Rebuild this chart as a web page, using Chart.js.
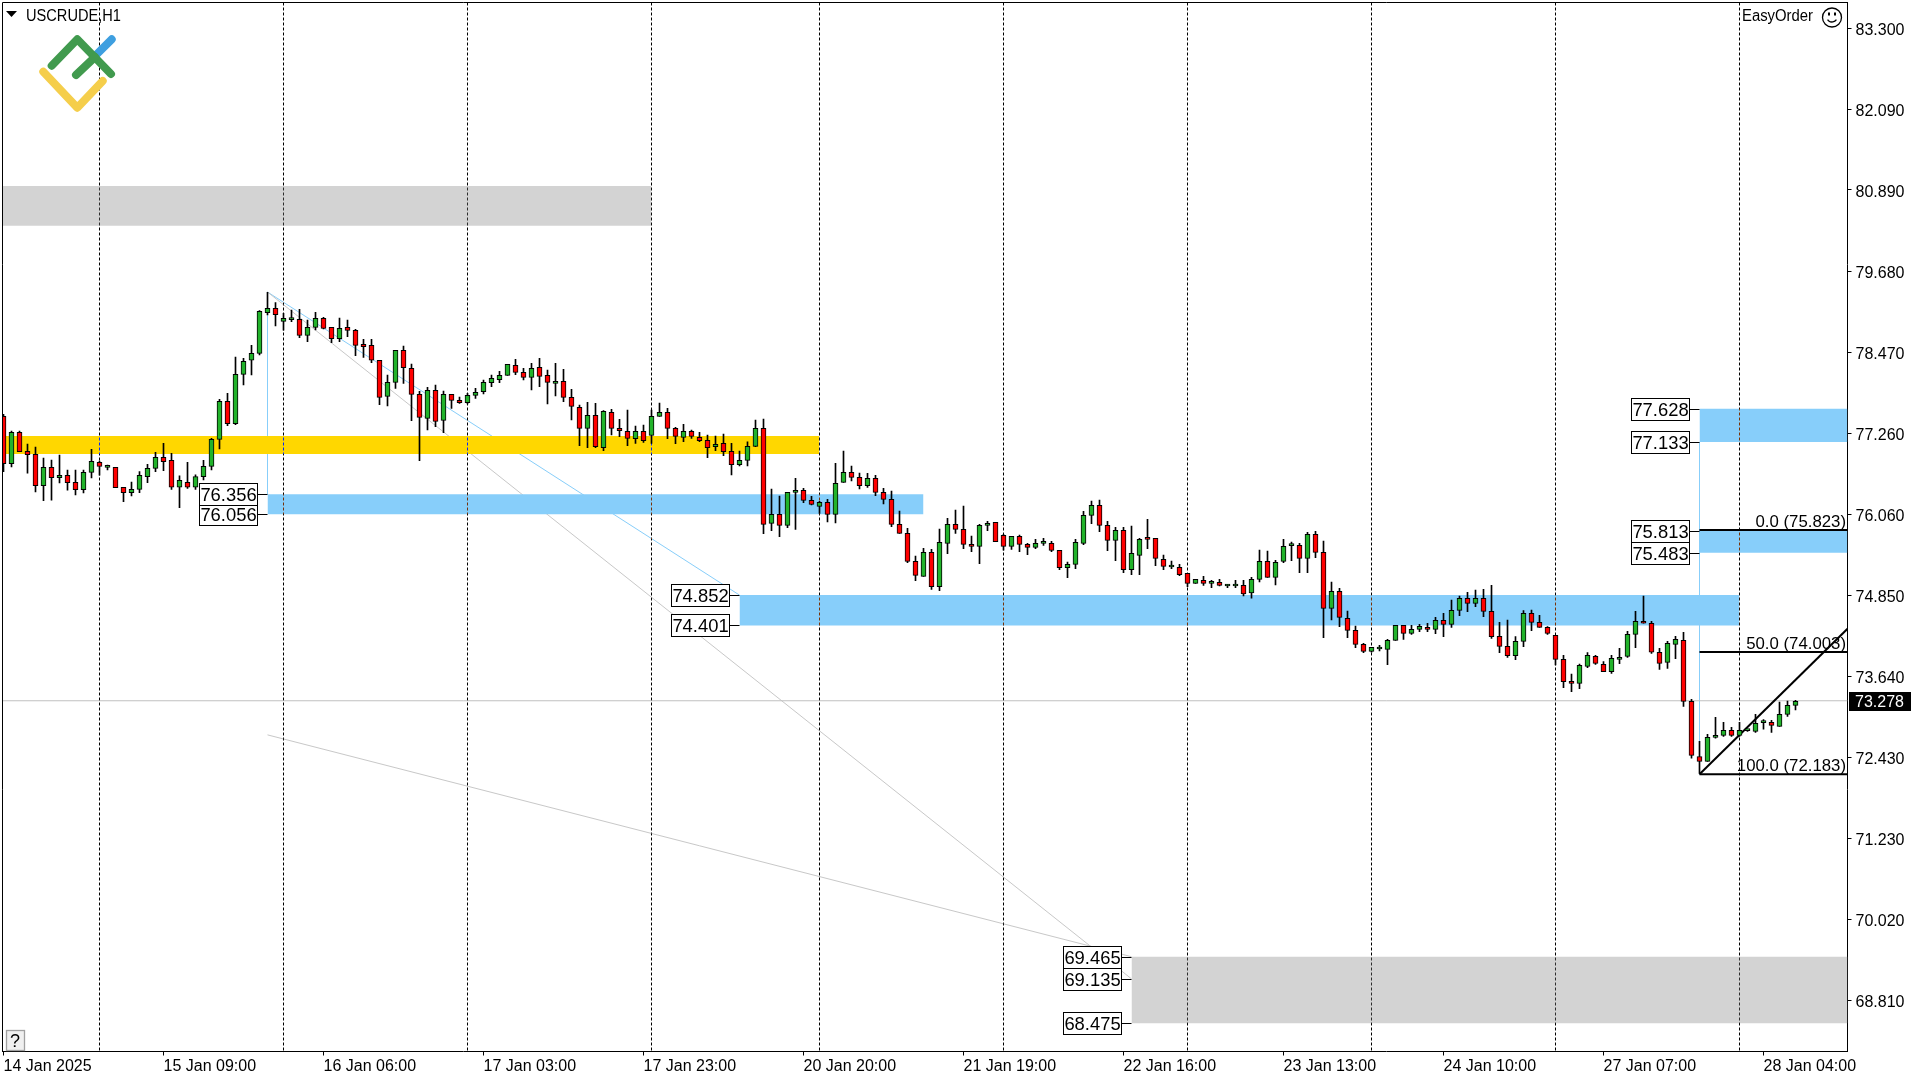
<!DOCTYPE html>
<html>
<head>
<meta charset="utf-8">
<title>USCRUDE,H1</title>
<script src="https://cdn.jsdelivr.net/npm/chart.js@4/dist/chart.umd.js"></script>
<style>
html, body { margin: 0; padding: 0; background: #fff; }
canvas { display: block; }
</style>
</head>
<body>
<canvas id="chart" width="1920" height="1080"></canvas>
<script>
// candles, oldest first
const opens = [
77.515,76.81,77.276,76.993,76.949,76.482,76.755,76.601,76.636,76.532,
76.422,76.681,76.83,76.755,76.755,76.458,76.378,76.428,76.617,76.741,
76.905,76.86,76.458,76.532,76.458,76.617,76.77,77.173,77.739,77.406,
78.141,78.35,78.454,79.059,79.124,78.93,78.955,78.96,78.722,78.841,
78.975,78.841,78.672,78.841,78.796,78.588,78.573,78.35,77.813,78.022,
78.498,78.23,77.843,77.485,77.903,77.456,77.843,77.754,77.719,77.828,
77.882,78.016,78.061,78.126,78.275,78.17,78.096,78.245,78.126,78.007,
78.036,77.798,77.649,77.336,77.53,77.048,77.574,77.336,77.291,77.182,
77.291,77.232,77.515,77.574,77.336,77.202,77.291,77.202,77.157,77.063,
77.113,76.994,76.795,76.859,77.068,77.336,75.921,76.055,75.891,76.383,
76.413,76.264,76.174,76.234,76.055,76.532,76.681,76.606,76.482,76.591,
76.383,76.278,75.906,75.772,75.355,75.132,75.489,74.978,75.623,75.906,
75.831,75.608,75.578,75.891,75.935,75.742,75.578,75.727,75.608,75.563,
75.623,75.623,75.518,75.26,75.31,75.623,76.04,76.189,75.891,75.667,
75.816,75.23,75.444,75.692,75.697,75.384,75.27,75.265,75.176,75.027,
75.071,75.027,75.042,74.987,74.987,74.997,74.883,75.086,75.354,75.116,
75.354,75.588,75.593,75.399,75.757,75.489,74.654,74.908,74.505,74.327,
74.118,74.014,74.049,74.044,74.178,74.401,74.282,74.342,74.371,74.342,
74.476,74.417,74.625,74.804,74.729,74.804,74.61,74.238,74.089,73.95,
74.163,74.58,74.446,74.372,74.253,73.895,73.568,73.538,73.791,73.94,
73.821,73.712,73.895,73.94,74.268,74.461,74.432,74.0,73.851,74.119,
74.178,73.27,72.445,72.376,72.733,72.763,72.838,72.763,72.833,72.823,
72.952,72.957,72.897,73.076,73.21];
const closes = [
76.81,77.276,76.988,76.944,76.482,76.755,76.601,76.636,76.527,76.422,
76.681,76.844,76.77,76.755,76.452,76.378,76.428,76.637,76.741,76.905,
76.84,76.458,76.562,76.458,76.617,76.77,77.173,77.739,77.406,78.141,
78.335,78.454,79.079,79.124,79.03,78.975,78.955,78.722,78.841,78.975,
78.826,78.672,78.826,78.796,78.573,78.553,78.35,77.798,78.022,78.498,
78.24,77.843,77.5,77.903,77.441,77.843,77.754,77.719,77.828,77.873,
78.021,78.081,78.126,78.29,78.17,78.096,78.23,78.111,78.021,78.036,
77.798,77.664,77.336,77.53,77.063,77.589,77.336,77.301,77.187,77.291,
77.152,77.515,77.574,77.336,77.217,77.291,77.217,77.152,77.048,77.098,
76.989,76.795,76.859,77.068,77.336,75.906,76.055,75.891,76.383,76.413,
76.264,76.204,76.234,76.055,76.517,76.681,76.606,76.482,76.591,76.383,
76.278,75.906,75.772,75.355,75.147,75.489,74.978,75.638,75.906,75.832,
75.608,75.578,75.891,75.921,75.648,75.578,75.727,75.608,75.563,75.623,
75.623,75.518,75.26,75.31,75.638,76.04,76.189,75.891,75.667,75.816,
75.23,75.474,75.682,75.682,75.399,75.28,75.27,75.156,75.027,75.086,
75.027,75.027,74.997,74.987,74.987,74.868,75.086,75.354,75.116,75.34,
75.578,75.588,75.399,75.757,75.489,74.654,74.908,74.52,74.327,74.118,
74.014,74.074,74.049,74.178,74.401,74.282,74.342,74.386,74.342,74.476,
74.417,74.625,74.804,74.729,74.804,74.61,74.233,74.089,73.95,74.163,
74.58,74.446,74.372,74.283,73.895,73.563,73.538,73.806,73.955,73.836,
73.712,73.91,73.925,74.268,74.461,74.432,74.0,73.836,74.134,74.193,
73.27,72.465,72.376,72.733,72.763,72.838,72.763,72.838,72.833,72.942,
72.952,72.912,73.076,73.21,73.27];
const highs = [
77.545,77.296,77.296,77.103,77.058,76.894,76.864,76.939,76.715,76.715,
76.715,77.023,76.85,76.79,76.755,76.458,76.537,76.691,76.8,76.979,
77.113,76.964,76.627,76.83,76.642,76.86,77.188,77.769,77.858,78.399,
78.379,78.573,79.089,79.362,79.208,79.05,79.099,79.109,78.95,79.064,
78.99,78.841,78.98,78.95,78.811,78.662,78.662,78.35,78.131,78.498,
78.563,78.295,77.888,77.947,77.982,77.893,77.843,77.803,77.858,77.932,
78.056,78.131,78.185,78.29,78.364,78.23,78.304,78.379,78.205,78.304,
78.215,77.917,77.684,77.723,77.708,77.599,77.619,77.47,77.609,77.371,
77.386,77.609,77.713,77.634,77.351,77.396,77.311,77.276,77.237,77.222,
77.252,77.113,76.998,77.137,77.46,77.475,76.432,76.328,76.383,76.591,
76.442,76.323,76.249,76.279,76.815,76.998,76.775,76.671,76.666,76.636,
76.442,76.403,76.105,75.846,75.435,75.549,75.534,75.837,75.996,76.12,
76.179,75.732,75.906,75.95,75.935,75.757,75.727,75.747,75.623,75.682,
75.697,75.652,75.518,75.345,75.682,76.099,76.253,76.268,75.95,75.861,
75.861,75.881,75.697,75.98,75.697,75.449,75.36,75.31,75.176,75.086,
75.131,75.071,75.086,75.012,75.071,75.071,75.116,75.523,75.508,75.369,
75.682,75.642,75.623,75.786,75.801,75.657,75.047,74.952,74.615,74.391,
74.133,74.074,74.103,74.193,74.401,74.401,74.401,74.416,74.431,74.521,
74.58,74.779,74.839,74.893,74.928,74.938,74.998,74.446,74.481,74.233,
74.62,74.63,74.551,74.382,74.253,73.955,73.677,73.826,73.995,73.955,
73.861,73.955,74.059,74.312,74.61,74.839,74.461,74.059,74.163,74.238,
74.297,73.3,72.674,72.778,73.031,72.957,72.882,72.957,72.84,73.076,
72.997,72.987,73.26,73.275,73.285];
const lows = [
76.69,76.76,76.988,76.67,76.388,76.259,76.268,76.522,76.417,76.343,
76.373,76.596,76.64,76.715,76.452,76.244,76.329,76.378,76.527,76.691,
76.706,76.428,76.155,76.443,76.428,76.567,76.716,77.029,77.376,77.391,
77.982,78.131,78.429,79.025,78.861,78.8,78.925,78.687,78.627,78.801,
78.816,78.613,78.627,78.702,78.419,78.394,78.315,77.689,77.669,77.932,
78.007,77.451,76.855,77.312,77.361,77.272,77.634,77.709,77.699,77.783,
77.848,77.957,78.016,78.126,78.136,78.056,77.907,77.957,77.699,77.818,
77.733,77.46,77.078,77.048,77.048,77.003,77.237,77.212,77.078,77.113,
77.127,77.113,77.515,77.182,77.108,77.137,77.187,77.137,76.899,77.003,
76.929,76.641,76.775,76.775,77.063,75.767,75.812,75.722,75.856,75.832,
76.229,76.194,76.07,75.941,75.926,76.532,76.552,76.432,76.457,76.333,
76.209,75.871,75.772,75.335,75.067,75.132,74.938,74.918,75.469,75.772,
75.543,75.499,75.32,75.811,75.648,75.523,75.533,75.499,75.454,75.543,
75.593,75.499,75.23,75.111,75.245,75.603,75.916,75.796,75.513,75.364,
75.186,75.156,75.156,75.543,75.29,75.23,75.245,75.141,74.977,75.027,
74.997,74.962,74.987,74.962,74.962,74.838,74.808,75.047,75.116,75.002,
75.335,75.364,75.186,75.186,75.409,74.218,74.481,74.381,74.218,74.069,
73.994,74.0,74.019,73.815,74.178,74.193,74.267,74.307,74.307,74.277,
74.233,74.372,74.546,74.605,74.68,74.531,74.208,73.995,73.925,73.891,
74.084,74.322,74.372,74.268,73.811,73.473,73.414,73.458,73.771,73.821,
73.712,73.687,73.831,73.925,74.069,74.432,73.985,73.746,73.761,73.905,
73.195,72.421,72.197,72.376,72.719,72.748,72.748,72.748,72.82,72.808,
72.853,72.808,72.897,73.046,73.141];

// axes
const priceTicks = [83.3,82.09,80.89,79.68,78.47,77.26,76.06,74.85,73.64,72.43,71.23,70.02,68.81];
const timeTickBars = [0,20,40,60,80,100,120,140,160,180,200,220];
const timeTickLabels = ["14 Jan 2025","15 Jan 09:00","16 Jan 06:00","17 Jan 03:00","17 Jan 23:00","20 Jan 20:00",
  "21 Jan 19:00","22 Jan 16:00","23 Jan 13:00","24 Jan 10:00","27 Jan 07:00","28 Jan 04:00"];
const separatorBars = [12,35,58,81,102,125,148,171,194,217];
const lastPrice = 73.278;

// zones, bar index and price
const zoneFrom = [-0.125,-0.125,33,92,212,212,141];
const zoneTo = [81,102,115,217,230.5,230.5,230.5];
const zoneHigh = [80.946,77.222,76.356,74.852,77.628,75.813,69.465];
const zoneLow = [80.355,76.954,76.056,74.401,77.133,75.483,68.475];
const zoneKind = ["gray","gold","blue","blue","blue","blue","gray"];

// boxed price labels, lower box first so the upper one sits on top
const boxPrices = [76.056,76.356,74.401,74.852,77.133,77.628,75.483,75.813,68.475,69.135,69.465];
const boxBars = [33,33,92,92,212,212,212,212,141,141,141];

// fibo levels
const fiboLevels = [75.823,74.003,72.183];
const fiboLabels = ["0.0 (75.823)","50.0 (74.003)","100.0 (72.183)"];
const fiboFrom = 212;

// thin drawn lines: [bar, price] pairs
const blueRay = [[33,79.367],[92,74.852]];
const grayRay1 = [[33,79.367],[141,69.135]];
const grayRay2 = [[33,72.77],[141,69.465]];
const blueStem1 = [[33,79.367],[33,76.356]];
const blueStem2 = [[212,77.133],[212,72.183]];
const trendLine = [[212,72.183],[230.5,74.351]];

const X_MIN = -0.125, X_MAX = 230.5;
const Y_MIN = 68.053, Y_MAX = 83.68;

const ZONE_COLORS = { gray: "#d3d3d3", gold: "#ffd700", blue: "#87cefa" };
const UP = "#22b32b", DOWN = "#ff0000";
const FONT = '"Liberation Sans", Arial, sans-serif';

Chart.defaults.font.family = FONT;
Chart.defaults.font.size = 16;
Chart.defaults.color = "#000";

function toPoints(pairs) {
    return pairs.map(p => ({ x: p[0], y: p[1] }));
}

function lineSet(pairs, color, width, order, extra) {
    return Object.assign({
        type: "line",
        data: toPoints(pairs),
        borderColor: color,
        borderWidth: width,
        pointRadius: 0,
        tension: 0,
        fill: false,
        order: order
    }, extra || {});
}

const datasets = [];

// candle bodies and wicks
datasets.push({
    type: "bar",
    data: opens.map((o, i) => ({ x: i, y: [o, closes[i]] })),
    backgroundColor: opens.map((o, i) => closes[i] >= o ? UP : DOWN),
    borderColor: "#000",
    borderWidth: 1,
    borderSkipped: false,
    barThickness: 5,
    minBarLength: 2,
    grouped: false,
    order: 1
});
datasets.push({
    type: "bar",
    data: highs.map((h, i) => ({ x: i, y: [lows[i], h] })),
    backgroundColor: "#000",
    borderWidth: 0,
    barThickness: 1,
    grouped: false,
    order: 2
});

// fibo and trend
fiboLevels.forEach(level => {
    datasets.push(lineSet([[fiboFrom, level], [X_MAX, level]], "#000", 2, 3));
});
datasets.push(lineSet(trendLine, "#000", 2, 3));

// period separators, inverted over whatever is under them
separatorBars.forEach(bar => {
    datasets.push(lineSet([[bar, Y_MAX], [bar, Y_MIN]], "#fff", 1, 4, { borderDash: [3, 2], invert: true }));
});

// zones
zoneFrom.forEach((from, i) => {
    datasets.push(lineSet([[from, zoneHigh[i]], [zoneTo[i], zoneHigh[i]]], "rgba(0,0,0,0)", 0, 5, {
        fill: { value: zoneLow[i] },
        backgroundColor: ZONE_COLORS[zoneKind[i]]
    }));
});

// last price line and thin drawings
datasets.push(lineSet([[X_MIN, lastPrice], [X_MAX, lastPrice]], "#c0c0c0", 1, 6));
datasets.push(lineSet(grayRay1, "#c8c8c8", 1, 7));
datasets.push(lineSet(grayRay2, "#c8c8c8", 1, 7));
datasets.push(lineSet(blueRay, "#87cefa", 1, 7));
datasets.push(lineSet(blueStem1, "#87cefa", 1, 7));
datasets.push(lineSet(blueStem2, "#87cefa", 1, 7));

function drawLogo(ctx) {
    ctx.save();
    ctx.lineCap = "round";
    ctx.lineJoin = "round";
    ctx.lineWidth = 8;
    const strokes = [
        ["#f5ce4b", [[43.3, 71.7], [77.3, 107.7], [102.7, 81]]],
        ["#3e9fe0", [[95, 56], [111.7, 39.3]]],
        ["#419a4e", [[51.7, 65.7], [77.3, 39.3], [111, 74]]],
        ["#419a4e", [[76, 75], [95, 57]]]
    ];
    strokes.forEach(s => {
        ctx.strokeStyle = s[0];
        ctx.beginPath();
        s[1].forEach((p, i) => i ? ctx.lineTo(p[0], p[1]) : ctx.moveTo(p[0], p[1]));
        ctx.stroke();
    });
    ctx.restore();
}

const overlay = {
    id: "overlay",
    beforeDraw(chart) {
        const ctx = chart.ctx;
        ctx.save();
        ctx.fillStyle = "#fff";
        ctx.fillRect(0, 0, chart.width, chart.height);
        ctx.restore();
    },
    beforeDatasetDraw(chart, args) {
        if (chart.data.datasets[args.index].invert) {
            chart.ctx.save();
            chart.ctx.globalCompositeOperation = "difference";
        }
    },
    afterDatasetDraw(chart, args) {
        if (chart.data.datasets[args.index].invert) chart.ctx.restore();
    },
    afterDatasetsDraw(chart) {
        const ctx = chart.ctx, a = chart.chartArea;
        const xs = chart.scales.x, ys = chart.scales.y;
        ctx.save();

        // frame: left and top, the scales draw the other two
        ctx.strokeStyle = "#000";
        ctx.lineWidth = 1;
        ctx.beginPath();
        ctx.moveTo(a.left, a.bottom);
        ctx.lineTo(a.left, a.top);
        ctx.lineTo(a.right, a.top);
        ctx.stroke();

        drawLogo(ctx);

        // boxed zone prices
        ctx.font = "18.4px " + FONT;
        ctx.textBaseline = "middle";
        ctx.textAlign = "center";
        boxPrices.forEach((price, i) => {
            const y = ys.getPixelForValue(price);
            const zx = xs.getPixelForValue(boxBars[i]);
            const right = Math.round(zx) - 10.5;
            const top = Math.round(y - 11) + 0.5;
            ctx.strokeStyle = "#000";
            ctx.beginPath();
            ctx.moveTo(right, Math.round(y) + 0.5);
            ctx.lineTo(zx, Math.round(y) + 0.5);
            ctx.stroke();
            ctx.fillStyle = "#fff";
            ctx.fillRect(right - 58, top, 58, 22);
            ctx.strokeRect(right - 58, top, 58, 22);
            ctx.fillStyle = "#000";
            ctx.fillText(price.toFixed(3), right - 29, top + 12.5);
        });

        // fibo captions
        ctx.font = "16.8px " + FONT;
        ctx.textAlign = "right";
        ctx.textBaseline = "alphabetic";
        fiboLevels.forEach((level, i) => {
            ctx.fillText(fiboLabels[i], a.right - 1.5, ys.getPixelForValue(level) - 3);
        });

        // header texts
        ctx.font = "16px " + FONT;
        ctx.textAlign = "left";
        ctx.fillText("USCRUDE,H1", 26, 20.5, 95);
        ctx.fillText("EasyOrder", 1742, 20.5, 71);

        ctx.beginPath();
        ctx.moveTo(6, 11);
        ctx.lineTo(17, 11);
        ctx.lineTo(11.5, 17);
        ctx.closePath();
        ctx.fill();

        // smiley
        ctx.lineWidth = 1.3;
        ctx.beginPath();
        ctx.arc(1832, 17.5, 9.5, 0, Math.PI * 2);
        ctx.stroke();
        ctx.beginPath();
        ctx.arc(1832, 16.5, 5.5, 0.2 * Math.PI, 0.8 * Math.PI);
        ctx.stroke();
        ctx.fillRect(1828, 12.5, 2, 3);
        ctx.fillRect(1834, 12.5, 2, 3);

        // help button
        ctx.fillStyle = "#f0f0f0";
        ctx.strokeStyle = "#a0a0a0";
        ctx.fillRect(6.5, 1030.5, 18, 20);
        ctx.strokeRect(6.5, 1030.5, 18, 20);
        ctx.fillStyle = "#000";
        ctx.font = "18px " + FONT;
        ctx.textAlign = "center";
        ctx.fillText("?", 15, 1047);

        // last price tag
        const py = ys.getPixelForValue(lastPrice);
        ctx.fillStyle = "#000";
        ctx.fillRect(1849, Math.round(py) - 9, 62, 19);
        ctx.fillStyle = "#fff";
        ctx.font = "16px " + FONT;
        ctx.textAlign = "left";
        ctx.textBaseline = "middle";
        ctx.fillText(lastPrice.toFixed(3), 1855, Math.round(py) + 2);

        ctx.restore();
    }
};

new Chart(document.getElementById("chart"), {
    type: "bar",
    data: { datasets: datasets },
    plugins: [overlay],
    options: {
        responsive: false,
        devicePixelRatio: 1,
        animation: false,
        events: [],
        layout: { padding: { left: 2.5, top: 2.5, right: 0, bottom: 0 } },
        plugins: { legend: { display: false }, tooltip: { enabled: false } },
        scales: {
            x: {
                type: "linear",
                min: X_MIN,
                max: X_MAX,
                offset: false,
                afterBuildTicks: s => { s.ticks = timeTickBars.map(v => ({ value: v })); },
                afterFit: s => { s.height = 28.5; s.paddingLeft = 0; s.paddingRight = 0; },
                border: { color: "#000", width: 1 },
                grid: { drawOnChartArea: false, offset: false, tickLength: 4, tickColor: "#000" },
                ticks: {
                    autoSkip: false,
                    maxRotation: 0,
                    align: "start",
                    padding: 1,
                    color: "#000",
                    callback: v => timeTickLabels[timeTickBars.indexOf(v)]
                }
            },
            y: {
                type: "linear",
                position: "right",
                min: Y_MIN,
                max: Y_MAX,
                afterBuildTicks: s => { s.ticks = priceTicks.map(v => ({ value: v })); },
                afterFit: s => { s.width = 72.5; s.paddingTop = 0; s.paddingBottom = 0; },
                border: { color: "#000", width: 1 },
                grid: { drawOnChartArea: false, tickLength: 4, tickColor: "#000" },
                ticks: {
                    autoSkip: false,
                    padding: 4,
                    color: "#000",
                    // blank first line nudges the digits down onto the tick
                    font: { size: 16, lineHeight: 0.3 },
                    callback: v => ["", v.toFixed(3)]
                }
            }
        }
    }
});
</script>
</body>
</html>
